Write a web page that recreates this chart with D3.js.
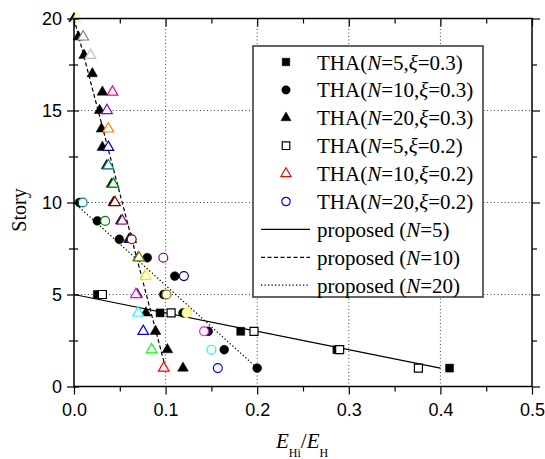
<!DOCTYPE html>
<html><head><meta charset="utf-8">
<script src="https://cdn.jsdelivr.net/npm/d3@7"></script>
<style>body{margin:0;background:#fff}</style>
</head><body>
<svg id="c" width="545" height="459" xmlns="http://www.w3.org/2000/svg"></svg>
<script>
// ---------- data ----------
const stories5  = [1,2,3,4,5];
const stories10 = [1,2,3,4,5,6,7,8,9,10];
const stories20 = [1,2,3,4,5,6,7,8,9,10,11,12,13,14,15,16,17,18,19,20];

const thaN5xi03  = [0.410, 0.287, 0.182, 0.094, 0.0255];          // filled squares
const thaN10xi03 = [0.200, 0.164, 0.1465, 0.119, 0.098, 0.110, 0.080, 0.0495, 0.0255, 0.006]; // filled circles
const thaN20xi03 = [0.119, 0.102, 0.089, 0.0785, 0.069, 0.078, 0.070, 0.060, 0.051, 0.043,
                    0.041, 0.0356, 0.031, 0.030, 0.028, 0.031, 0.020, 0.011, 0.0047, 0.0]; // filled triangles
const thaN5xi02  = [0.376, 0.290, 0.1965, 0.106, 0.031];            // open squares
const thaN10xi02 = [0.098, 0.0847, 0.0756, 0.070, 0.0676, 0.0785, 0.071, 0.062, 0.0527, 0.0447,
                    0.043, 0.0375, 0.0375, 0.0375, 0.036, 0.042, 0.032, 0.018, 0.010, 0.003]; // open triangles
const thaN20xi02 = [0.157, 0.150, 0.142, 0.123, 0.101, 0.120, 0.0975, 0.063, 0.034, 0.0095]; // open circles

const proposedN5X  = [0, 0.4],  proposedN5Y  = [5, 1];
const proposedN10X = [0, 0.1],  proposedN10Y = [20, 1];
const proposedN20X = [0, 0.2],  proposedN20Y = [10, 1];

const xTicks = [0, 0.1, 0.2, 0.3, 0.4, 0.5];
const xMinor = [0.05, 0.15, 0.25, 0.35, 0.45];
const yTicks = [0, 5, 10, 15, 20];
const yMinor = [2.5, 7.5, 12.5, 17.5];
const xGrid = [0.1, 0.2, 0.3, 0.4];
const yGrid = [5, 10, 15];

// Origin colour-increment palette
const palette = ["#000000","#FF0000","#00FF00","#0000FF","#00FFFF","#FF00FF","#FFFF00","#808000",
  "#000080","#800080","#800000","#008000","#008080","#0000A0","#FF8000","#8000FF","#FF0080",
  "#FFFFFF","#C0C0C0","#808080","#FFFF80","#C0C0C0","#808080"];

const legendItems = [
  {kind:"sym", shape:"square",   filled:true,  color:"#000", n:"5",  xi:"0.3"},
  {kind:"sym", shape:"circle",   filled:true,  color:"#000", n:"10", xi:"0.3"},
  {kind:"sym", shape:"triangle", filled:true,  color:"#000", n:"20", xi:"0.3"},
  {kind:"sym", shape:"square",   filled:false, color:"#000", n:"5",  xi:"0.2"},
  {kind:"sym", shape:"triangle", filled:false, color:"#FF0000", n:"10", xi:"0.2"},
  {kind:"sym", shape:"circle",   filled:false, color:"#0000FF", n:"20", xi:"0.2"},
  {kind:"line", dash:null,  n:"5"},
  {kind:"line", dash:"4,2.5", n:"10"},
  {kind:"line", dash:"1.3,2.2", n:"20"}
];

// ---------- setup ----------
const svg = d3.select("#c");
const L = 74, R = 532, T = 18.5, B = 386.5;
const x = d3.scaleLinear().domain([0, 0.5]).range([L, R]);
const y = d3.scaleLinear().domain([0, 20]).range([B, T]);
const SANS = "'Liberation Sans', Arial, sans-serif";
const SERIF = "'Liberation Serif', 'Times New Roman', serif";

const symType = {square: d3.symbolSquare, circle: d3.symbolCircle, triangle: d3.symbolTriangle};
const symSize = {square: 64, circle: 62, triangle: 50};
function sym(shape){ return d3.symbol().type(symType[shape]).size(symSize[shape])(); }

// grid
const grid = svg.append("g").attr("stroke", "#444").attr("stroke-width", 1).attr("stroke-dasharray", "1,2.5");
grid.selectAll(".gx").data(xGrid).join("line")
  .attr("x1", d => x(d)).attr("x2", d => x(d)).attr("y1", T).attr("y2", B);
grid.selectAll(".gy").data(yGrid).join("line")
  .attr("y1", d => y(d)).attr("y2", d => y(d)).attr("x1", L).attr("x2", R);

// proposed lines
const lineGen = d3.line().x(d => x(d[0])).y(d => y(d[1]));
function drawLine(xs, ys, dash){
  svg.append("path").datum(xs.map((v,i) => [v, ys[i]]))
    .attr("d", lineGen).attr("fill", "none").attr("stroke", "#000").attr("stroke-width", 1.2)
    .attr("stroke-dasharray", dash);
}
drawLine(proposedN5X, proposedN5Y, null);
drawLine(proposedN10X, proposedN10Y, "4,2.5");
drawLine(proposedN20X, proposedN20Y, "1.3,2.2");

// markers
function drawSeries(xs, ys, shape, filled, colorFn){
  svg.append("g").selectAll("path").data(xs.map((v,i) => [v, ys[i], i])).join("path")
    .attr("d", sym(shape))
    .attr("transform", d => `translate(${x(d[0])},${y(d[1])})`)
    .attr("fill", d => filled ? colorFn(d[2]) : "#fff")
    .attr("stroke", d => colorFn(d[2]))
    .attr("stroke-width", filled ? 0.5 : 1.2);
}
drawSeries(thaN5xi03,  stories5,  "square",   true,  () => "#000");
drawSeries(thaN10xi03, stories10, "circle",   true,  () => "#000");
drawSeries(thaN20xi03, stories20, "triangle", true,  () => "#000");
drawSeries(thaN5xi02,  stories5,  "square",   false, () => "#000");
drawSeries(thaN10xi02, stories20, "triangle", false, i => palette[i + 1]);
drawSeries(thaN20xi02, stories10, "circle",   false, i => palette[i + 3]);

// axes
function styleAxis(g){
  g.select(".domain").remove();
  g.selectAll("line").attr("stroke", "#000").attr("stroke-width", 1.2);
  g.selectAll("text").attr("font-family", SANS).attr("font-size", 18).attr("fill", "#000");
}
svg.append("g").attr("transform", `translate(0,${B})`)
  .call(d3.axisBottom(x).tickValues(xTicks).tickSize(8).tickPadding(9).tickFormat(d3.format(".1f"))).call(styleAxis);
svg.append("g").attr("transform", `translate(0,${B})`)
  .call(d3.axisBottom(x).tickValues(xMinor).tickSize(5).tickFormat("")).call(styleAxis);
svg.append("g").attr("transform", `translate(0,${T})`)
  .call(d3.axisBottom(x).tickValues(xTicks).tickSize(8).tickFormat("")).call(styleAxis);
svg.append("g").attr("transform", `translate(0,${T})`)
  .call(d3.axisBottom(x).tickValues(xMinor).tickSize(5).tickFormat("")).call(styleAxis);

svg.append("g").attr("transform", `translate(${L},0)`)
  .call(d3.axisLeft(y).tickValues(yTicks).tickSize(7).tickPadding(5).tickFormat(d3.format("d"))).call(styleAxis);
svg.append("g").attr("transform", `translate(${L},0)`)
  .call(d3.axisLeft(y).tickValues(yMinor).tickSize(5).tickFormat("")).call(styleAxis);
svg.append("g").attr("transform", `translate(${L},0)`)
  .call(d3.axisRight(y).tickValues(yTicks).tickSize(5).tickFormat("")).call(styleAxis);
svg.append("g").attr("transform", `translate(${L},0)`)
  .call(d3.axisRight(y).tickValues(yMinor).tickSize(4).tickFormat("")).call(styleAxis);
svg.append("g").attr("transform", `translate(${R},0)`)
  .call(d3.axisLeft(y).tickValues(yTicks).tickSize(-8).tickFormat("")).call(styleAxis);
svg.append("g").attr("transform", `translate(${R},0)`)
  .call(d3.axisLeft(y).tickValues(yMinor).tickSize(-5).tickFormat("")).call(styleAxis);

// frame
svg.append("rect").attr("x", L).attr("y", T).attr("width", R - L).attr("height", B - T)
  .attr("fill", "none").attr("stroke", "#000").attr("stroke-width", 1.5);

// legend
const lg = svg.append("g");
lg.append("rect").attr("x", 253).attr("y", 46).attr("width", 230).attr("height", 251)
  .attr("fill", "#fff").attr("stroke", "#333").attr("stroke-width", 1.5);
legendItems.forEach((it, i) => {
  const cy = 62 + i * 27.9;
  if (it.kind === "sym") {
    lg.append("path").attr("d", d3.symbol().type(symType[it.shape]).size(symSize[it.shape] * 0.9)())
      .attr("transform", `translate(286,${cy})`)
      .attr("fill", it.filled ? it.color : "#fff").attr("stroke", it.color)
      .attr("stroke-width", it.filled ? 0.5 : 1.2);
  } else {
    lg.append("line").attr("x1", 261).attr("x2", 310).attr("y1", cy).attr("y2", cy)
      .attr("stroke", "#000").attr("stroke-width", 1.2).attr("stroke-dasharray", it.dash);
  }
  const t = lg.append("text").attr("x", 317).attr("y", cy + 7.5)
    .attr("font-family", SERIF).attr("font-size", 21).attr("fill", "#000");
  if (it.kind === "sym") {
    t.append("tspan").text("THA(");
    t.append("tspan").attr("font-style", "italic").text("N");
    t.append("tspan").text("=" + it.n + ",");
    t.append("tspan").attr("font-style", "italic").text("ξ");
    t.append("tspan").text("=" + it.xi + ")");
  } else {
    t.append("tspan").text("proposed (");
    t.append("tspan").attr("font-style", "italic").text("N");
    t.append("tspan").text("=" + it.n + ")");
  }
});

// axis titles
svg.append("text").attr("transform", "translate(26,210) rotate(-90)")
  .attr("text-anchor", "middle").attr("font-family", SERIF).attr("font-size", 20).text("Story");

const xt = svg.append("text").attr("x", 276).attr("y", 448)
  .attr("font-family", SERIF).attr("font-size", 21);
xt.append("tspan").attr("font-style", "italic").text("E");
xt.append("tspan").attr("font-size", 12).attr("dy", 9).text("Hi");
xt.append("tspan").attr("dy", -9).text("/");
xt.append("tspan").attr("font-style", "italic").text("E");
xt.append("tspan").attr("font-size", 12).attr("dy", 9).text("H");
</script>
</body></html>
